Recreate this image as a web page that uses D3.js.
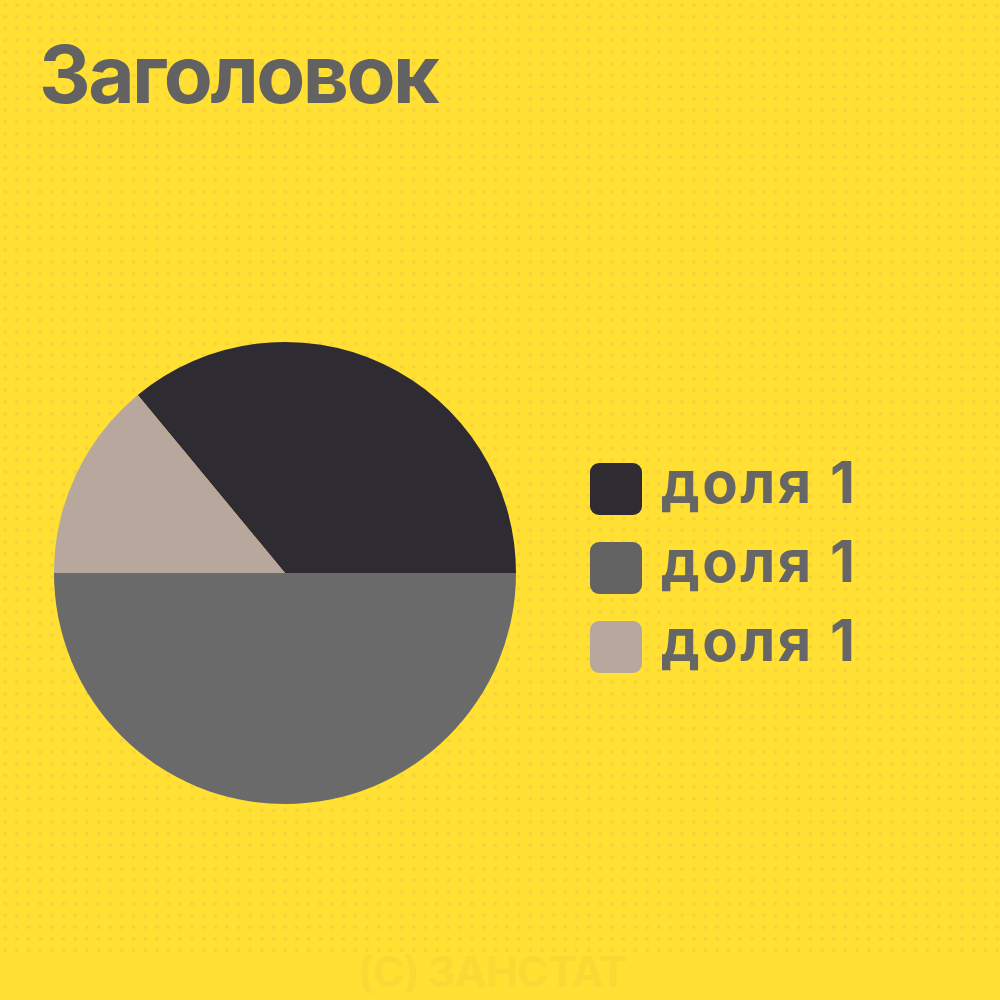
<!DOCTYPE html>
<html><head><meta charset="utf-8">
<script src="https://cdn.jsdelivr.net/npm/d3@7"></script>
<style>html,body{margin:0;padding:0;background:#ffe033;}svg{display:block;}</style>
</head><body>
<script>
const categories = ["доля 1", "доля 1", "доля 1"];
const values = [36, 50, 14];
const colors = ["#2f2b33", "#6a6a6a", "#b8a79c"];
const legendColors = ["#2f2b33", "#636363", "#b8a79c"];
const title = "Заголовок";
const footer = "(С) ЗАНСТАТ";

const W = 1000, H = 1000;
const svg = d3.select("body").append("svg").attr("width", W).attr("height", H);

const defs = svg.append("defs");
const pat = defs.append("pattern").attr("id","dots").attr("patternUnits","userSpaceOnUse")
  .attr("width", 11.67).attr("height", 11.67).attr("x", 3.5).attr("y", 3.5);
pat.append("rect").attr("width", 3.4).attr("height", 3.4).attr("fill", "#f7d23a");

svg.append("rect").attr("width", W).attr("height", H).attr("fill", "#ffe033");
svg.append("rect").attr("width", W).attr("height", 952).attr("fill", "url(#dots)");

svg.append("text").attr("x", 39).attr("y", 103)
  .attr("font-family", "Inter, 'Open Sans', sans-serif").attr("font-weight", 700)
  .attr("font-size", 80).attr("fill", "#626262").attr("letter-spacing", -2.5)
  .text(title);

const total = d3.sum(values);
const start = Math.PI / 2 - values[0] / total * 2 * Math.PI;
const pie = d3.pie().sort(null).startAngle(start).endAngle(start + 2 * Math.PI);
const arc = d3.arc().innerRadius(0).outerRadius(231);
const g = svg.append("g").attr("transform", "translate(285,573)");
g.selectAll("path").data(pie(values)).join("path")
  .attr("d", arc).attr("fill", (d, i) => colors[i]);

const leg = svg.append("g").attr("transform", "translate(590,463)");
const items = leg.selectAll("g").data(categories).join("g")
  .attr("transform", (d, i) => `translate(0,${i * 79})`);
items.append("rect").attr("width", 52).attr("height", 52).attr("rx", 9)
  .attr("fill", (d, i) => legendColors[i]);
items.append("text").attr("x", 71).attr("y", 40)
  .attr("font-family", "Inter, 'Open Sans', sans-serif").attr("font-weight", 700)
  .attr("font-size", 58).attr("fill", "#666666").attr("letter-spacing", 2.5)
  .text(d => d);

svg.append("text").attr("x", 492).attr("y", 987).attr("text-anchor", "middle")
  .attr("font-family", "Inter, 'Open Sans', sans-serif").attr("font-weight", 700)
  .attr("font-size", 43).attr("fill", "#fbd833").attr("letter-spacing", -1)
  .text(footer);
</script>
</body></html>
